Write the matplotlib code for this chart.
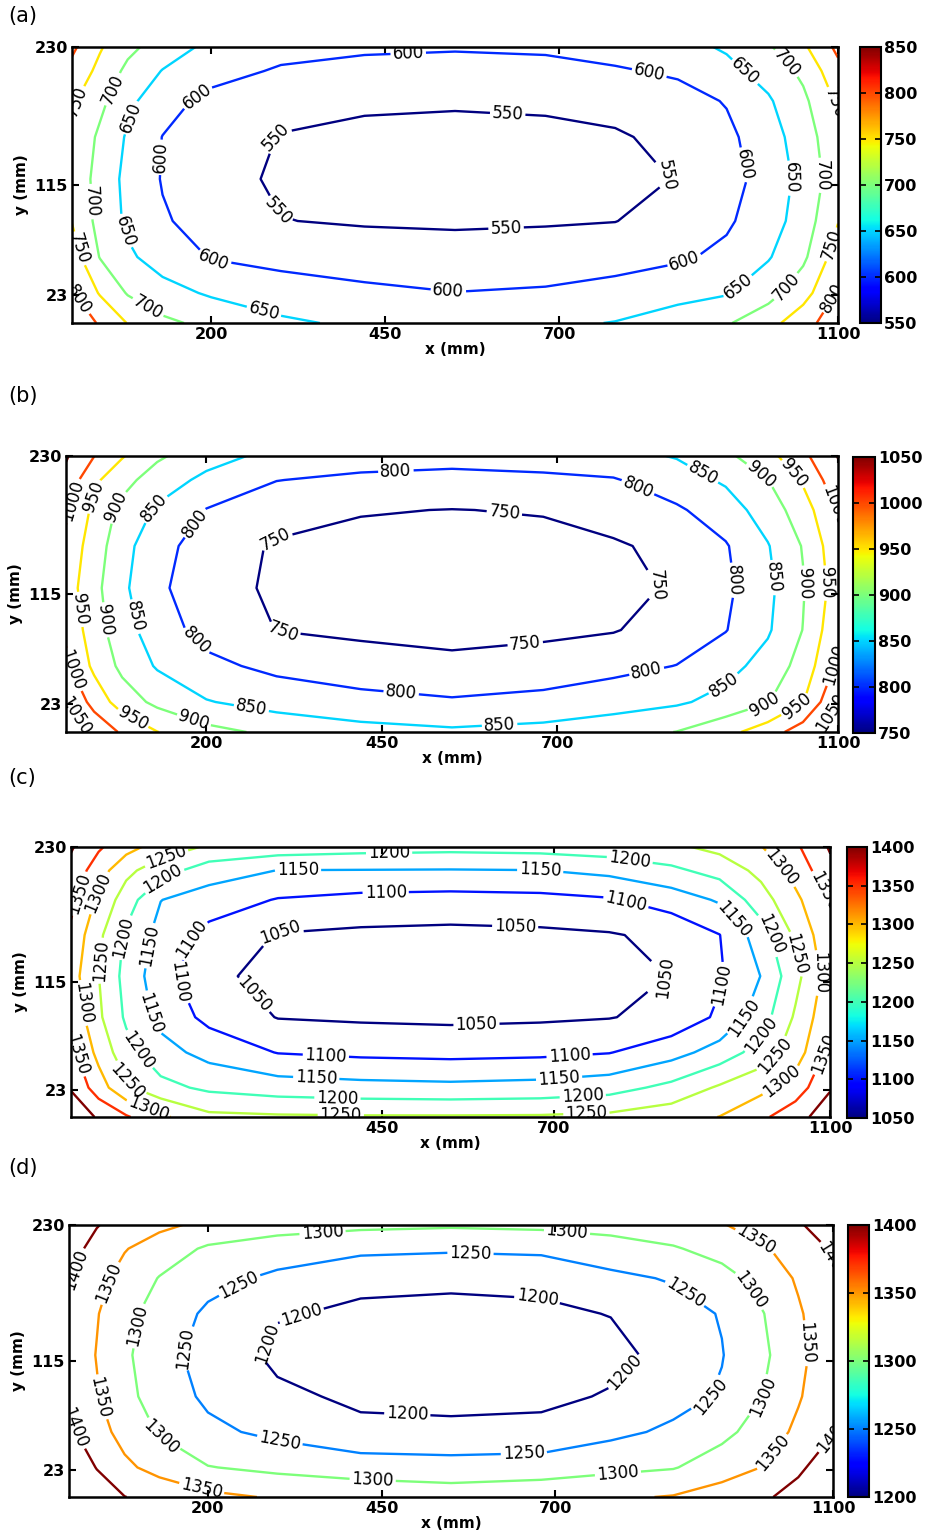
import numpy as np
import matplotlib
matplotlib.use('Agg')
import matplotlib.pyplot as plt
from matplotlib.colors import Normalize
from matplotlib.cm import ScalarMappable

plt.rcParams['font.family'] = 'DejaVu Sans'

# grid of measurement positions (mm)
x_mm = [0, 40, 80, 130, 200, 300, 420, 550, 680, 780, 870, 940, 1000, 1050, 1100]
y_mm = [0, 25, 55, 85, 120, 155, 185, 210, 230]

# (a) rows go from y = 0 up to y = 230
field_a = [
    [840, 794, 748, 711, 686, 657, 642, 632, 640, 652, 678, 695, 732, 781, 830],
    [805, 746, 696, 667, 644, 628, 612, 601, 606, 616, 632, 646, 682, 730, 805],
    [775, 698, 658, 629, 597, 582, 572, 568, 572, 582, 593, 611, 646, 690, 775],
    [748, 683, 641, 605, 581, 551, 546, 544, 546, 549, 571, 593, 627, 673, 748],
    [735, 682, 636, 597, 567, 543, 535, 532, 535, 543, 551, 583, 618, 666, 728],
    [742, 691, 644, 599, 575, 548, 540, 537, 540, 545, 562, 589, 627, 676, 735],
    [757, 713, 662, 620, 585, 565, 557, 555, 557, 565, 582, 603, 644, 689, 758],
    [785, 737, 688, 648, 619, 594, 586, 583, 586, 595, 607, 636, 669, 711, 785],
    [810, 755, 713, 677, 637, 618, 607, 604, 607, 618, 634, 656, 694, 741, 812],
]
field_b = [
    [1080, 1038, 993, 951, 916, 888, 868, 858, 866, 882, 901, 935, 976, 1026, 1080],
    [1052, 982, 926, 888, 853, 830, 815, 806, 815, 828, 843, 866, 897, 947, 1052],
    [1010, 939, 888, 845, 812, 788, 773, 760, 770, 786, 801, 833, 869, 919, 1010],
    [992, 922, 871, 823, 783, 749, 740, 737, 740, 747, 772, 798, 844, 901, 990],
    [975, 915, 860, 810, 770, 742, 733, 730, 733, 740, 754, 790, 838, 896, 975],
    [985, 926, 868, 817, 778, 744, 737, 735, 737, 743, 766, 796, 847, 903, 985],
    [1010, 938, 886, 843, 798, 773, 753, 749, 753, 775, 793, 826, 874, 926, 1005],
    [1035, 960, 917, 876, 838, 801, 790, 786, 790, 796, 828, 857, 899, 956, 1033],
    [1055, 1001, 954, 908, 870, 835, 822, 816, 822, 835, 853, 889, 934, 988, 1052],
]
field_c = [
    [1440, 1393, 1356, 1310, 1262, 1257, 1255, 1255, 1256, 1262, 1280, 1301, 1340, 1380, 1430],
    [1395, 1324, 1259, 1215, 1190, 1175, 1167, 1163, 1168, 1180, 1214, 1257, 1286, 1324, 1395],
    [1365, 1285, 1218, 1169, 1133, 1098, 1089, 1085, 1089, 1098, 1131, 1171, 1222, 1275, 1365],
    [1340, 1259, 1192, 1135, 1086, 1048, 1043, 1040, 1043, 1048, 1064, 1109, 1176, 1257, 1340],
    [1322, 1251, 1183, 1120, 1060, 1036, 1033, 1030, 1033, 1038, 1051, 1094, 1151, 1234, 1325],
    [1338, 1261, 1192, 1132, 1084, 1047, 1040, 1037, 1040, 1046, 1062, 1099, 1176, 1259, 1338],
    [1365, 1289, 1225, 1151, 1126, 1097, 1085, 1081, 1085, 1095, 1123, 1156, 1228, 1289, 1352],
    [1385, 1323, 1263, 1221, 1174, 1149, 1148, 1147, 1149, 1163, 1189, 1219, 1264, 1318, 1385],
    [1405, 1357, 1318, 1278, 1243, 1228, 1219, 1215, 1219, 1228, 1240, 1264, 1298, 1341, 1405],
]
field_d = [
    [1470, 1428, 1401, 1384, 1362, 1345, 1333, 1325, 1332, 1343, 1353, 1375, 1393, 1418, 1450],
    [1440, 1398, 1360, 1333, 1302, 1288, 1277, 1272, 1277, 1288, 1297, 1325, 1352, 1391, 1430],
    [1410, 1369, 1333, 1296, 1261, 1238, 1210, 1208, 1210, 1238, 1259, 1287, 1322, 1361, 1398],
    [1395, 1354, 1315, 1277, 1241, 1209, 1192, 1190, 1192, 1203, 1233, 1255, 1301, 1345, 1390],
    [1385, 1348, 1309, 1269, 1230, 1190, 1188, 1185, 1188, 1190, 1212, 1248, 1291, 1338, 1380],
    [1390, 1353, 1315, 1279, 1242, 1203, 1194, 1192, 1194, 1201, 1231, 1253, 1299, 1344, 1385],
    [1405, 1366, 1332, 1298, 1266, 1240, 1208, 1206, 1208, 1240, 1254, 1280, 1320, 1356, 1393],
    [1415, 1387, 1353, 1326, 1293, 1275, 1263, 1257, 1262, 1275, 1295, 1320, 1344, 1375, 1405],
    [1430, 1402, 1384, 1361, 1338, 1320, 1310, 1306, 1310, 1320, 1333, 1347, 1372, 1395, 1425],
]

levels_a = [550, 600, 650, 700, 750, 800]
levels_b = [750, 800, 850, 900, 950, 1000, 1050]
levels_c = [1050, 1100, 1150, 1200, 1250, 1300, 1350, 1400]
levels_d = [1200, 1250, 1300, 1350, 1400]

cticks_a = [550, 600, 650, 700, 750, 800, 850]
cticks_b = [750, 800, 850, 900, 950, 1000, 1050]
cticks_c = [1050, 1100, 1150, 1200, 1250, 1300, 1350, 1400]
cticks_d = [1200, 1250, 1300, 1350, 1400]

xticks_abd = [200, 450, 700, 1100]
xticks_c = [450, 700, 1100]
yticks = [23, 115, 230]

# where the inline contour labels sit (mm)
labels_a = [(483, 222), (830, 211), (969, 211), (1023, 215), (1090, 182), (626, 178),
            (287, 158), (180, 188), (85, 171), (54, 196), (14, 183), (130, 138),
            (23, 101), (78, 77), (10, 62), (280, 88), (202, 47), (105, 9), (9, 19),
            (273, 4), (540, 24), (624, 69), (859, 125), (976, 133), (1036, 121),
            (1076, 123), (1093, 65), (1093, 21), (1026, 30), (957, 30), (883, 46)]
labels_b = [(470, 218), (13, 192), (46, 195), (77, 186), (127, 186), (184, 174),
            (296, 163), (18, 102), (49, 93), (89, 95), (177, 71), (308, 78), (10, 52),
            (13, 13), (94, 10), (180, 6), (263, 16), (477, 29), (625, 185), (815, 204),
            (908, 216), (989, 214), (1034, 214), (1091, 188), (860, 129), (958, 127),
            (1013, 129), (1053, 124), (1082, 124), (656, 63), (830, 43), (939, 38),
            (991, 31), (1034, 29), (1091, 57), (1089, 16), (618, 4)]
labels_c = [(461, 226), (329, 210), (456, 193), (304, 156), (139, 219), (136, 199),
            (13, 190), (40, 191), (81, 153), (114, 146), (170, 153), (45, 133), (16, 97),
            (146, 112), (254, 98), (112, 88), (98, 57), (13, 54), (88, 34), (112, 7),
            (369, 48), (355, 28), (386, 13), (391, 2), (810, 220), (680, 210), (805, 185),
            (644, 168), (1031, 213), (1084, 190), (963, 170), (1016, 156), (1052, 139),
            (1079, 122), (867, 115), (954, 111), (983, 80), (1009, 67), (1026, 48),
            (1033, 28), (1091, 54), (588, 71), (723, 48), (708, 28), (742, 14), (747, 2)]
labels_d = [(365, 224), (10, 192), (58, 181), (240, 185), (98, 145), (333, 157),
            (276, 133), (161, 127), (43, 84), (7, 58), (132, 51), (302, 42), (487, 69),
            (437, 11), (190, 5), (717, 224), (578, 205), (674, 166), (986, 214),
            (890, 175), (981, 175), (1086, 193), (1062, 130), (813, 99), (928, 84),
            (1000, 84), (1091, 59), (1017, 36), (655, 35), (791, 15)]

W, H = 925, 1536
fig = plt.figure(figsize=(W / 100, H / 100), dpi=100)


def px_rect(left, top, right, bottom):
    return [left / W, 1 - bottom / H, (right - left) / W, (bottom - top) / H]


def draw_panel(ax_box, cb_box, field, levels, cticks, xticks, label_pos, tag, tag_y):
    ax = fig.add_axes(px_rect(*ax_box))
    z = np.array(field, dtype=float)
    norm = Normalize(vmin=cticks[0], vmax=cticks[-1])
    cs = ax.contour(x_mm, y_mm, z, levels=levels, cmap='jet', norm=norm, linewidths=1.7)
    ax.clabel(cs, inline=True, fontsize=12, fmt='%d', manual=label_pos,
              inline_spacing=2, colors='black')
    ax.set_xlim(0, 1100)
    ax.set_ylim(0, 230)
    ax.set_xticks(xticks)
    ax.set_yticks(yticks)
    ax.tick_params(direction='in', top=True, right=True, length=5, width=1.5,
                   labelsize=11.5, pad=3)
    for lab in ax.get_xticklabels() + ax.get_yticklabels():
        lab.set_fontweight('bold')
    for sp in ax.spines.values():
        sp.set_linewidth(1.8)
    ax.set_xlabel('x (mm)', fontsize=11, fontweight='bold', labelpad=0)
    ax.set_ylabel('y (mm)', fontsize=11, fontweight='bold', labelpad=4)

    cax = fig.add_axes(px_rect(*cb_box))
    sm = ScalarMappable(norm=norm, cmap='jet')
    cb = fig.colorbar(sm, cax=cax, ticks=cticks)
    cb.outline.set_linewidth(1.5)
    cax.tick_params(direction='in', left=True, right=True, length=4, width=1.2,
                    labelsize=11.5, pad=2)
    for lab in cax.get_yticklabels():
        lab.set_fontweight('bold')

    fig.text(8 / W, 1 - tag_y / H, tag, fontsize=15, va='center', ha='left')
    return ax


draw_panel((72, 47, 838, 323), (860, 47, 881, 323), field_a, levels_a, cticks_a,
           xticks_abd, labels_a, '(a)', 16)
draw_panel((66, 456, 838, 732), (853, 457, 875, 733), field_b, levels_b, cticks_b,
           xticks_abd, labels_b, '(b)', 396)
draw_panel((71, 847, 830, 1117), (847, 847, 867, 1118), field_c, levels_c, cticks_c,
           xticks_c, labels_c, '(c)', 778)
draw_panel((69, 1225, 833, 1497), (848, 1225, 869, 1497), field_d, levels_d, cticks_d,
           xticks_abd, labels_d, '(d)', 1168)

fig.savefig('out.png', dpi=100)
